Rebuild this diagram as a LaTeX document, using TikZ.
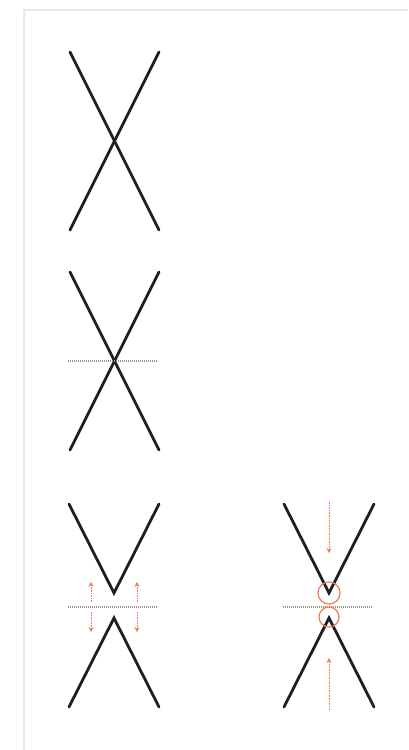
\documentclass[tikz,border=0pt]{standalone}
\usepackage{xcolor}
\usepackage{tikz}
\usetikzlibrary{arrows.meta}
\definecolor{salmon}{HTML}{F07A5C}
\tikzset{
  trazo/.style={line width=1.4pt,draw=black!88,line cap=round},
  guia/.style={gray!85,line width=0.6pt,dash pattern=on 0.6pt off 0.4pt},
  flecha/.style={-{Stealth[length=2.5pt,width=2.6pt]},salmon,line width=0.5pt,dash pattern=on 0.8pt off 0.5pt},
  marca/.style={circle,draw=salmon,line width=0.6pt,minimum size=11pt,inner sep=0pt},
  marco/.style={gray!18,line width=1pt}
}

\begin{document}
\begin{tikzpicture}[x=0.5pt,y=-0.5pt]
\useasboundingbox (0,0) rectangle (408,750);
\draw[marco] (24,750)--(24,10)--(408,10);
% las dos X enteras
\foreach \t/\n in {52/1,272/2}{
  \coordinate (si\n) at (70,\t);
  \coordinate (sd\n) at (159,\t);
  \coordinate (ii\n) at (70,\t+178);
  \coordinate (id\n) at (159,\t+178);
  \draw[trazo] (si\n)--(id\n);
  \draw[trazo] (sd\n)--(ii\n);}
\coordinate (g2a) at (68,361);
\coordinate (g2b) at (158,361);
\draw[guia] (g2a)--(g2b);
% la X partida: V arriba, A abajo
\foreach \x/\n in {114/3,329/4}{
  \coordinate (v\n) at (\x,593);
  \coordinate (a\n) at (\x,618);
  \draw[trazo] (\x-45,504)--(v\n)--(\x+45,504);
  \draw[trazo] (\x-45,707)--(a\n)--(\x+45,707);
  \coordinate (ga\n) at (\x-46,607);
  \coordinate (gb\n) at (\x+44,607);
  \draw[guia] (ga\n)--(gb\n);}
% se separan
\foreach \x in {91,137}{
  \coordinate (p\x) at (\x,602);
  \coordinate (q\x) at (\x,582);
  \coordinate (r\x) at (\x,612);
  \coordinate (s\x) at (\x,632);
  \draw[flecha] (p\x)--(q\x);
  \draw[flecha] (r\x)--(s\x);}
% se acercan
\coordinate (ba) at (329,502);
\coordinate (bb) at (329,553);
\coordinate (sa) at (329,710);
\coordinate (sb) at (329,658);
\draw[flecha] (ba)--(bb);
\draw[flecha] (sa)--(sb);
\node[marca] (cv) at (v4) {};
\node[marca,minimum size=10pt] (ca) at (329,617) {};
\end{tikzpicture}
\end{document}
